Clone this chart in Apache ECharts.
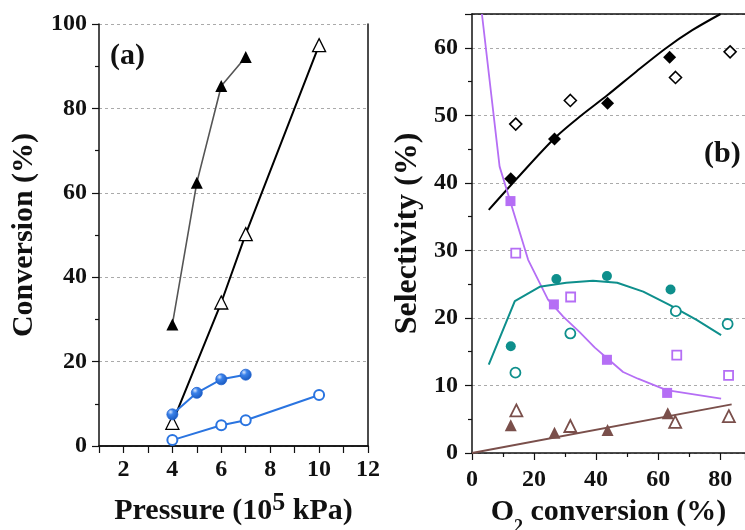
<!DOCTYPE html>
<html><head><meta charset="utf-8">
<script src="https://cdn.jsdelivr.net/npm/echarts@6/dist/echarts.min.js"></script>
<style>html,body{margin:0;padding:0;background:#fff}#c{width:745px;height:530px}</style>
</head><body><div id="c"></div>
<script>
// ---------- Panel (a): conversion vs pressure ----------
const aFilledTri = [[4, 28.8], [5, 62.4], [6, 85.3], [7, 92.2]];
const aOpenTri = [[4, 5.5], [6, 34.0], [7, 50.2], [10, 95.0]];
const aFilledCirc = [[4, 7.5], [5, 12.6], [6, 15.8], [7, 16.9]];
const aOpenCirc = [[4, 1.4], [6, 4.9], [7, 6.1], [10, 12.1]];
const aXTicks = [2, 4, 6, 8, 10, 12];
const aYTicks = [0, 20, 40, 60, 80, 100];

// ---------- Panel (b): selectivity vs O2 conversion ----------
const bFilledDia = [[12.5, 40.6], [26.6, 46.5], [43.7, 51.8], [63.7, 58.6]];
const bOpenDia = [[14.1, 48.7], [31.7, 52.2], [65.6, 55.6], [83.2, 59.4]];
const bBlackCurve = [[5.4, 36.0], [15, 40.9], [26.6, 46.6], [35, 49.9], [43.7, 53.0], [53, 56.5], [62.4, 59.9], [71, 62.6], [80.1, 65.0]];
const bFilledSq = [[12.4, 37.3], [26.4, 22.0], [43.5, 13.8], [62.9, 8.9]];
const bOpenSq = [[14.1, 29.6], [31.8, 23.1], [66.0, 14.5], [82.7, 11.5]];
const bPurpleCurve = [[3.2, 65], [8.9, 42.4], [18.1, 28.6], [24.5, 22.7], [29.4, 20.2], [34.7, 17.9], [39.6, 15.6], [44.4, 13.7], [48.7, 12.0], [53.5, 11.0], [62.7, 9.3], [80.3, 8.05]];
const bFilledCirc = [[12.5, 15.8], [27.2, 25.75], [43.5, 26.2], [64.0, 24.2]];
const bOpenCirc = [[14.0, 11.9], [31.7, 17.7], [65.7, 21.0], [82.4, 19.1]];
const bTealCurve = [[5.4, 13.1], [13.8, 22.5], [21.8, 24.6], [30.4, 25.2], [39, 25.5], [46.8, 25.2], [55.2, 23.9], [63.8, 21.9], [72.4, 19.7], [80.3, 17.45]];
const bFilledTri = [[12.5, 4.1], [26.6, 3.0], [43.7, 3.4], [63.1, 5.9]];
const bOpenTri = [[14.3, 6.3], [31.7, 4.0], [65.5, 4.6], [82.8, 5.45]];
const bBrownLine = [[0, 0], [83.7, 7.2]];
const bXTicks = [0, 20, 40, 60, 80];
const bYTicks = [0, 10, 20, 30, 40, 50, 60];

const FONT = '"Liberation Serif", "Times New Roman", serif';
const BLUE = '#2a74e0', PURPLE = '#b56ef5', TEAL = '#0e8f8c', BROWN = '#7a4f4b';
const blueGrad = {type: 'radial', x: 0.35, y: 0.3, r: 0.7, colorStops: [{offset: 0, color: '#d6e6ff'}, {offset: 0.35, color: '#3b82ea'}, {offset: 1, color: '#1b5bc0'}]};

const tickLabel = {fontFamily: FONT, fontWeight: 'bold', fontSize: 24, color: '#111'};
const dash = {show: true, lineStyle: {color: '#aaa', type: [3, 3], width: 1}};
const axLine = {show: true, lineStyle: {color: '#111', width: 1.5}};
const tick = {length: 7, lineStyle: {color: '#111', width: 1.2}};
const minor = {show: true, splitNumber: 2, length: 4, lineStyle: {color: '#111', width: 1.2}};

function frameAxis(pos, gi, min, max) {
  return {type: 'value', gridIndex: gi, position: pos, min: min, max: max, axisLine: axLine,
          axisTick: {show: false}, axisLabel: {show: false}, splitLine: {show: false}};
}
const titleRich = (extra) => Object.assign({fontFamily: FONT, fontWeight: 'bold', fontSize: 30, color: '#111', lineHeight: 36}, extra);

const chart = echarts.init(document.getElementById('c'));
chart.setOption({
  animation: false,
  grid: [
    {left: 99, top: 24, right: 377, bottom: 84, containLabel: false, outerBoundsMode: 'none'},
    {left: 472, top: 14, right: 0, bottom: 77, containLabel: false, outerBoundsMode: 'none'}
  ],
  xAxis: [
    {type: 'value', gridIndex: 0, min: 1, max: 12, interval: 1,
     axisLine: axLine, axisTick: tick,
     axisLabel: Object.assign({}, tickLabel, {margin: 12, formatter: v => aXTicks.includes(v) ? String(v) : ''}),
     splitLine: {show: false},
     name: '{a|Pressure (10}{s|5}{a| kPa)}', nameLocation: 'middle', nameGap: 44,
     nameTextStyle: {rich: {a: titleRich({verticalAlign: 'bottom'}),
                            s: titleRich({fontSize: 26, verticalAlign: 'top'})}}},
    frameAxis('top', 0, 1, 12),
    {type: 'value', gridIndex: 1, min: 0, max: 88, interval: 20,
     axisLine: axLine, axisTick: tick, minorTick: minor,
     axisLabel: Object.assign({}, tickLabel, {margin: 15, showMaxLabel: false, formatter: v => bXTicks.includes(v) ? String(v) : ''}),
     splitLine: {show: false},
     name: '{a|O}{sub|2}{a| conversion (%)}', nameLocation: 'middle', nameGap: 41,
     nameTextStyle: {rich: {a: titleRich({verticalAlign: 'middle'}),
                            sub: titleRich({fontSize: 18, verticalAlign: 'bottom', padding: [0, 0, -6, 0]})}}},
    frameAxis('top', 1, 0, 88)
  ],
  yAxis: [
    {type: 'value', gridIndex: 0, min: 0, max: 100, interval: 20,
     axisLine: axLine, axisTick: tick, minorTick: minor,
     axisLabel: Object.assign({}, tickLabel, {margin: 12, formatter: v => aYTicks.includes(v) ? String(v) : ''}),
     splitLine: dash,
     name: 'Conversion (%)', nameLocation: 'middle', nameGap: 60,
     nameTextStyle: {fontFamily: FONT, fontWeight: 'bold', fontSize: 30, color: '#111'}},
    frameAxis('right', 0, 0, 100),
    {type: 'value', gridIndex: 1, min: 0, max: 65, interval: 10,
     axisLine: axLine, axisTick: tick, minorTick: minor,
     axisLabel: Object.assign({}, tickLabel, {margin: 14, showMaxLabel: false, formatter: v => bYTicks.includes(v) ? String(v) : ''}),
     splitLine: dash,
     name: 'Selectivity (%)', nameLocation: 'middle', nameGap: 48,
     nameTextStyle: {fontFamily: FONT, fontWeight: 'bold', fontSize: 32, color: '#111'}}
  ],
  graphic: [
    {type: 'text', left: 110, top: 41, style: {text: '(a)', font: 'bold 30px ' + FONT, fill: '#111'}},
    {type: 'text', left: 704, top: 139, style: {text: '(b)', font: 'bold 30px ' + FONT, fill: '#111'}}
  ],
  series: [
    // panel a
    {type: 'line', xAxisIndex: 0, yAxisIndex: 0, data: aFilledTri, symbol: 'triangle', symbolSize: 12,
     lineStyle: {color: '#555', width: 1.6}, itemStyle: {color: '#000'}, z: 3},
    {type: 'line', xAxisIndex: 0, yAxisIndex: 0, data: aOpenTri, symbol: 'triangle', symbolSize: 13,
     lineStyle: {color: '#000', width: 2}, itemStyle: {color: '#fff', borderColor: '#000', borderWidth: 1.3}, z: 3},
    {type: 'line', xAxisIndex: 0, yAxisIndex: 0, data: aFilledCirc, symbol: 'circle', symbolSize: 11,
     lineStyle: {color: BLUE, width: 2}, itemStyle: {color: blueGrad, borderColor: '#1f62d0', borderWidth: 0.8}, z: 4},
    {type: 'line', xAxisIndex: 0, yAxisIndex: 0, data: aOpenCirc, symbol: 'circle', symbolSize: 10,
     lineStyle: {color: BLUE, width: 2}, itemStyle: {color: '#fff', borderColor: BLUE, borderWidth: 2}, z: 4},
    // panel b curves
    {type: 'line', xAxisIndex: 2, yAxisIndex: 2, data: bBlackCurve, symbol: 'none', smooth: 0.3,
     lineStyle: {color: '#000', width: 2}},
    {type: 'line', xAxisIndex: 2, yAxisIndex: 2, data: bPurpleCurve, symbol: 'none',
     lineStyle: {color: PURPLE, width: 1.8}},
    {type: 'line', xAxisIndex: 2, yAxisIndex: 2, data: bTealCurve, symbol: 'none',
     lineStyle: {color: TEAL, width: 2}},
    {type: 'line', xAxisIndex: 2, yAxisIndex: 2, data: bBrownLine, symbol: 'none',
     lineStyle: {color: BROWN, width: 2}},
    // panel b points
    {type: 'scatter', xAxisIndex: 2, yAxisIndex: 2, data: bFilledDia, symbol: 'diamond', symbolSize: 13, itemStyle: {color: '#000', opacity: 1}, z: 5},
    {type: 'scatter', xAxisIndex: 2, yAxisIndex: 2, data: bOpenDia, symbol: 'diamond', symbolSize: 12, itemStyle: {color: '#fff', borderColor: '#000', borderWidth: 1.6, opacity: 1}, z: 5},
    {type: 'scatter', xAxisIndex: 2, yAxisIndex: 2, data: bFilledSq, symbol: 'rect', symbolSize: 10, itemStyle: {color: PURPLE, opacity: 1}, z: 5},
    {type: 'scatter', xAxisIndex: 2, yAxisIndex: 2, data: bOpenSq, symbol: 'rect', symbolSize: 9, itemStyle: {color: '#fff', borderColor: PURPLE, borderWidth: 1.8, opacity: 1}, z: 5},
    {type: 'scatter', xAxisIndex: 2, yAxisIndex: 2, data: bFilledCirc, symbol: 'circle', symbolSize: 10, itemStyle: {color: TEAL, opacity: 1}, z: 5},
    {type: 'scatter', xAxisIndex: 2, yAxisIndex: 2, data: bOpenCirc, symbol: 'circle', symbolSize: 10, itemStyle: {color: '#fff', borderColor: TEAL, borderWidth: 1.8, opacity: 1}, z: 5},
    {type: 'scatter', xAxisIndex: 2, yAxisIndex: 2, data: bFilledTri, symbol: 'triangle', symbolSize: 12, itemStyle: {color: BROWN, opacity: 1}, z: 5},
    {type: 'scatter', xAxisIndex: 2, yAxisIndex: 2, data: bOpenTri, symbol: 'triangle', symbolSize: 12, itemStyle: {color: '#fff', borderColor: BROWN, borderWidth: 1.8, opacity: 1}, z: 5}
  ]
});
</script></body></html>
